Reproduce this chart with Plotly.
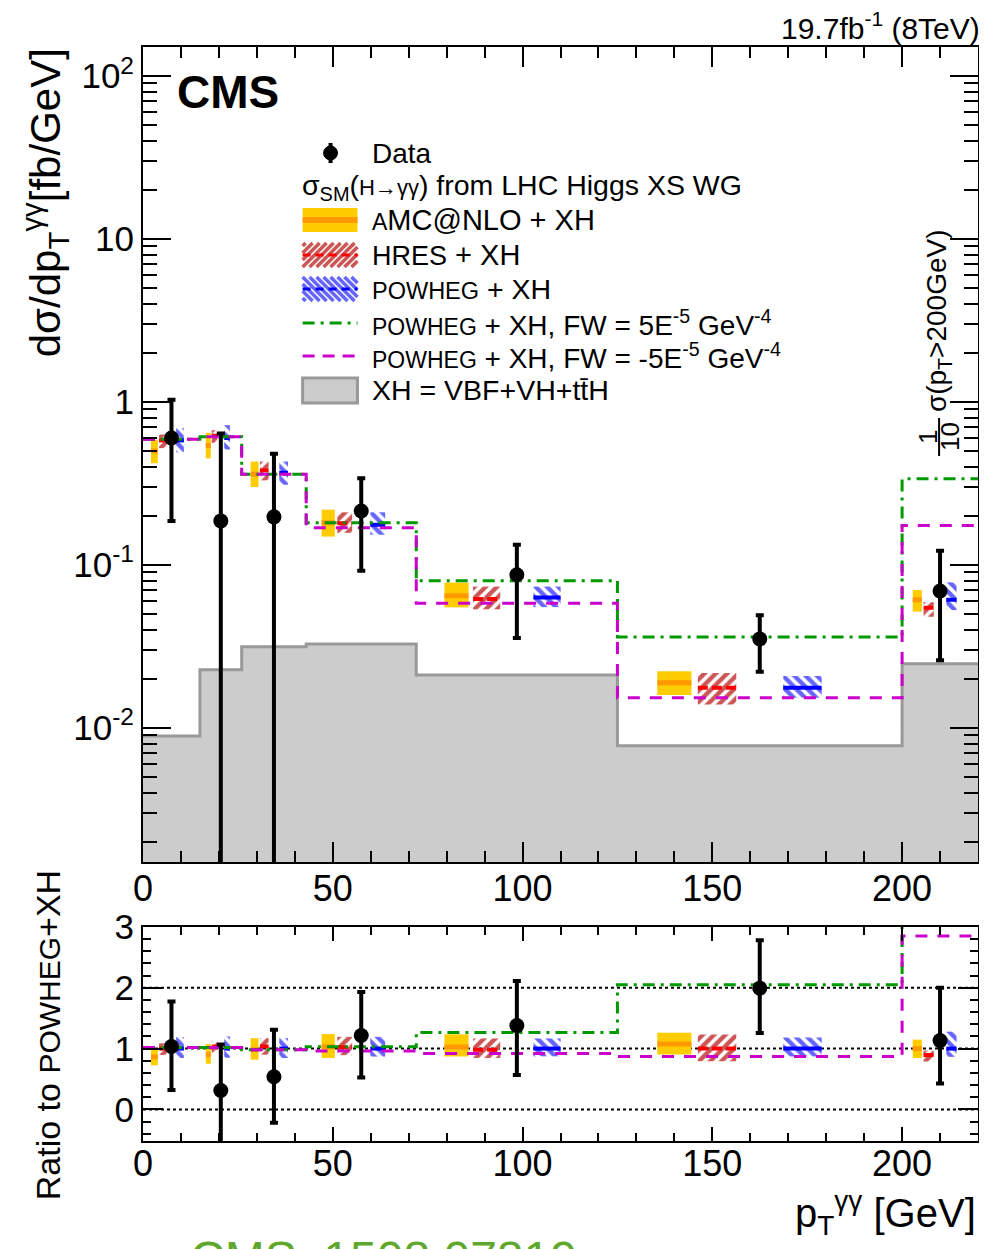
import plotly.graph_objects as go

# ---------------- data ----------------
edges = [0, 15, 26, 43, 72, 125, 200, 220]

data_val = [0.60, 0.186, 0.197, 0.214, 0.0868, 0.0351, 0.069]
data_hi = [1.03, 0.64, 0.48, 0.34, 0.133, 0.049, 0.122]
data_lo = [0.186, -0.35, -0.08, 0.092, 0.0356, 0.0221, 0.026]

amc_val = [0.50, 0.54, 0.36, 0.181, 0.0646, 0.0189, 0.061]
amc_hi = [0.585, 0.645, 0.43, 0.218, 0.0778, 0.0222, 0.070]
amc_lo = [0.42, 0.45, 0.30, 0.149, 0.0548, 0.0159, 0.0516]

hres_val = [0.58, 0.62, 0.38, 0.18, 0.0617, 0.0176, 0.0545]
hres_hi = [0.63, 0.67, 0.43, 0.21, 0.0735, 0.0217, 0.059]
hres_lo = [0.52, 0.56, 0.33, 0.157, 0.0533, 0.0139, 0.048]

pow_val = [0.58, 0.60, 0.367, 0.176, 0.063, 0.0176, 0.061]
pow_hi = [0.69, 0.72, 0.43, 0.21, 0.0735, 0.0208, 0.078]
pow_lo = [0.49, 0.51, 0.31, 0.153, 0.055, 0.0153, 0.0527]

fw_pos = [0.59, 0.61, 0.36, 0.181, 0.0798, 0.0361, 0.337]
fw_neg = [0.59, 0.61, 0.36, 0.169, 0.058, 0.0153, 0.174]
xh_val = [0.0089, 0.0227, 0.0314, 0.0327, 0.0211, 0.00776, 0.0247]

x_ticks = [0, 50, 100, 150, 200]
y_ticks = [0.01, 0.1, 1, 10, 100]
y_ticktext = ["10<sup>-2</sup>", "10<sup>-1</sup>", "1", "10", "10<sup>2</sup>"]
ratio_ticks = [0, 1, 2, 3]
ratio_ref = [0, 1, 2]

# ---------------- helpers ----------------
FONT = "Liberation Sans, Arial, Helvetica, sans-serif"
nb = len(edges) - 1
centers = [(edges[i] + edges[i + 1]) / 2 for i in range(nb)]
bwidth = [edges[i + 1] - edges[i] for i in range(nb)]

def ratio(arr):
    return [a / p for a, p in zip(arr, pow_val)]

def seg_xy(vals, frac, wfrac):
    xs, ys = [], []
    for i in range(nb):
        c = edges[i] + frac * bwidth[i]
        w = wfrac * bwidth[i]
        xs += [c - w / 2, c + w / 2, None]
        ys += [vals[i], vals[i], None]
    return xs, ys

fig = go.Figure()

def add_band(vals, lo, hi, frac, wfrac, fill, pattern, linecolor, linew, dash, xa, ya):
    xpos = [edges[i] + frac * bwidth[i] for i in range(nb)]
    widths = [wfrac * b for b in bwidth]
    marker = dict(color=fill, line=dict(width=0))
    if pattern:
        marker = dict(color="rgba(0,0,0,0)", line=dict(width=0),
                      pattern=dict(shape=pattern, fgcolor=linecolor[0], bgcolor="rgba(0,0,0,0)",
                                   size=8, solidity=0.55, fillmode="overlay", fgopacity=1))
    fig.add_trace(go.Bar(x=xpos, y=[h - l for h, l in zip(hi, lo)], base=lo, width=widths,
                         marker=marker, xaxis=xa, yaxis=ya, showlegend=False, hoverinfo="skip"))
    sx, sy = seg_xy(vals, frac, wfrac)
    fig.add_trace(go.Scatter(x=sx, y=sy, mode="lines", line=dict(color=linecolor[1], width=linew, dash=dash),
                             xaxis=xa, yaxis=ya, showlegend=False, hoverinfo="skip"))

def add_panel(xa, ya, is_ratio):
    f = ratio if is_ratio else (lambda a: a)
    if not is_ratio:
        fig.add_trace(go.Scatter(x=edges, y=xh_val + [xh_val[-1]], mode="lines", line_shape="hv",
                                 fill="tozeroy", fillcolor="#cccccc",
                                 line=dict(color="#999999", width=3),
                                 xaxis=xa, yaxis=ya, showlegend=False, hoverinfo="skip"))
    add_band(f(amc_val), f(amc_lo), f(amc_hi), 0.2, 0.12, "#ffcc00", None, ("#ffcc00", "#ff9900"), 5, "solid", xa, ya)
    add_band(f(hres_val), f(hres_lo), f(hres_hi), 0.35, 0.135, None, "/", ("#cc5555", "#ff0000"), 4, "10px,4px", xa, ya)
    add_band(f(pow_val), f(pow_lo), f(pow_hi), 0.65, 0.135, None, "\\", ("#6666ff", "#0000ff"), 4, "solid", xa, ya)
    fp = f(fw_pos)
    fn = f(fw_neg)
    fig.add_trace(go.Scatter(x=edges, y=fp + [fp[-1]], mode="lines", line_shape="hv",
                             line=dict(color="#009900", width=3, dash="12px,6px,3px,6px"),
                             xaxis=xa, yaxis=ya, showlegend=False, hoverinfo="skip"))
    fig.add_trace(go.Scatter(x=edges, y=fn + [fn[-1]], mode="lines", line_shape="hv",
                             line=dict(color="#cc00cc", width=3, dash="12px,10px"),
                             xaxis=xa, yaxis=ya, showlegend=False, hoverinfo="skip"))
    dv = f(data_val)
    dh = f(data_hi)
    dl = f(data_lo)
    fig.add_trace(go.Scatter(x=centers, y=dv, mode="markers",
                             marker=dict(color="black", size=15),
                             error_y=dict(type="data", symmetric=False,
                                          array=[h - v for h, v in zip(dh, dv)],
                                          arrayminus=[v - l for v, l in zip(dv, dl)],
                                          color="black", thickness=4, width=4),
                             xaxis=xa, yaxis=ya, showlegend=False, hoverinfo="skip"))

add_panel("x", "y", False)
add_panel("x2", "y2", True)

# ---------------- layout ----------------
# absolute page pixel positions of the plot area; the page body adds an 8px offset
OFF = 8
L, R, T, B, W, H = 143, 980, 47, 1141, 987, 1249
def PX(px):
    return (px - L) / (R - L)
def PY(py):
    return (B - py) / (B - T)

main_bottom = PY(862)
ratio_top = PY(927)

axis_common = dict(showline=True, linecolor="black", linewidth=2, mirror="allticks",
                   ticks="inside", tickcolor="black", tickwidth=2, showgrid=False, zeroline=False)

xfont = dict(family=FONT, size=36, color="black")
yfont = dict(family=FONT, size=35, color="black")

minor_log = [m * 10 ** e for e in range(-3, 3) for m in range(2, 10)]

fig.update_layout(
    width=W - OFF, height=H - OFF, autosize=False,
    margin=dict(l=L - OFF, r=W - R, t=T - OFF, b=H - B, pad=0),
    paper_bgcolor="white", plot_bgcolor="white",
    barmode="overlay", showlegend=False,
    font=dict(family=FONT, color="black"),
    xaxis=dict(axis_common, domain=[0, 1], anchor="y", range=[0, 220], tickfont=xfont,
               tickmode="array", tickvals=x_ticks, ticklen=20, ticklabelstandoff=-6,
               minor=dict(dtick=10, tick0=0, ticks="inside", ticklen=11, tickwidth=2, tickcolor="black")),
    yaxis=dict(axis_common, domain=[main_bottom, 1], anchor="x", type="log", tickfont=yfont,
               range=[-2.824, 2.178], tickmode="array", tickvals=y_ticks, ticktext=y_ticktext,
               ticklen=28,
               minor=dict(tickmode="array", tickvals=minor_log, ticks="inside", ticklen=14,
                          tickwidth=2, tickcolor="black")),
    xaxis2=dict(axis_common, domain=[0, 1], anchor="y2", range=[0, 220], tickfont=xfont,
                tickmode="array", tickvals=x_ticks, ticklen=14, ticklabelstandoff=-10,
                minor=dict(dtick=10, tick0=0, ticks="inside", ticklen=8, tickwidth=2, tickcolor="black")),
    yaxis2=dict(axis_common, domain=[0, ratio_top], anchor="x2", range=[-0.52, 3.0], tickfont=yfont,
                tickmode="array", tickvals=ratio_ticks, ticklen=20,
                minor=dict(dtick=0.2, tick0=0, ticks="inside", ticklen=8, tickwidth=2, tickcolor="black")),
)

shapes = []
for r in ratio_ref:
    shapes.append(dict(type="line", xref="x2", yref="y2", x0=0, x1=220, y0=r, y1=r,
                       line=dict(color="black", width=2, dash="dot"), layer="below"))

ann = []
def text(x, y, s, size, xanchor="left", yanchor="middle", angle=0, color="black"):
    ann.append(dict(x=PX(x), y=PY(y), xref="paper", yref="paper", text=s, showarrow=False,
                    xanchor=xanchor, yanchor=yanchor, textangle=angle,
                    font=dict(family=FONT, size=size, color=color)))

def pline(x0, y0, x1, y1, color, width, dash="solid"):
    shapes.append(dict(type="line", xref="paper", yref="paper", x0=PX(x0), y0=PY(y0),
                       x1=PX(x1), y1=PY(y1), line=dict(color=color, width=width, dash=dash)))

def prect(x0, y0, x1, y1, fill, lcolor=None, lw=0):
    shapes.append(dict(type="rect", xref="paper", yref="paper", x0=PX(x0), y0=PY(y0),
                       x1=PX(x1), y1=PY(y1), fillcolor=fill,
                       line=dict(color=lcolor or fill, width=lw)))

# legend
lx0, lx1, tx = 303, 358, 371
pline(331, 143, 331, 163, "black", 4)
shapes.append(dict(type="circle", xref="paper", yref="paper", x0=PX(324), x1=PX(338),
                   y0=PY(146), y1=PY(160), fillcolor="black", line=dict(color="black", width=1)))
text(tx, 153, "Data", 28)
text(300, 187, "σ<sub>SM</sub>(<span style='font-size:22px'>H→γγ</span>) from LHC Higgs XS WG", 28.5)
prect(lx0, 208, lx1, 232, "#ffcc00")
pline(lx0, 220, lx1, 220, "#ff9900", 6)
text(tx, 220, "<span style='font-size:23px'>A</span>MC@NLO + XH", 29)
for k in range(-3, 8):
    xa = lx0 + 7 * k
    pline(max(xa, lx0), 267 - (max(xa, lx0) - xa), min(xa + 24, lx1), 267 - (min(xa + 24, lx1) - xa), "#cc5555", 3.5)
pline(lx0, 255, lx1, 255, "#ff0000", 3, "8px,5px")
text(tx, 255, "<span style='font-size:27px'>HRES</span> + XH", 29)
for k in range(-3, 8):
    xa = lx0 + 7 * k
    pline(max(xa, lx0), 277 + (max(xa, lx0) - xa), min(xa + 24, lx1), 277 + (min(xa + 24, lx1) - xa), "#6666ff", 3.5)
pline(lx0, 289, lx1, 289, "#0000ff", 3, "8px,5px")
text(tx, 289, "<span style='font-size:23.5px'>POWHEG</span> + XH", 28.5)
pline(lx0, 323, lx1, 323, "#009900", 3, "12px,6px,3px,6px")
text(tx, 323, "<span style='font-size:23px'>POWHEG</span> + XH, FW = 5E<sup>-5</sup> GeV<sup>-4</sup>", 28)
pline(lx0, 356, lx1, 356, "#cc00cc", 3, "12px,8px")
text(tx, 356, "<span style='font-size:23px'>POWHEG</span> + XH, FW = -5E<sup>-5</sup> GeV<sup>-4</sup>", 28)
prect(lx0, 378, lx1, 403, "#cccccc", "#999999", 3)
text(tx, 390, "XH = VBF+VH+tt\u0304H", 28.5)

# other labels
text(175, 92, "<b>CMS</b>", 46)
text(984, 26, "19.7fb<sup>-1</sup> (8TeV)", 30, xanchor="right")
text(45, 203, "dσ/dp<sub>T</sub><sup>γγ</sup>[fb/GeV]", 42, xanchor="center", angle=-90)
text(48, 1035, "Ratio to <span style='font-size:30px'>POWHEG</span>+XH", 34, xanchor="center", angle=-90)
text(980, 1213, "p<sub>T</sub><sup>γγ</sup> [GeV]", 40, xanchor="right")
text(940, 321, "σ(p<sub>T</sub>>200GeV)", 28, xanchor="center", angle=-90)
text(930, 437, "1", 26, xanchor="center", angle=-90)
text(952, 437, "10", 26, xanchor="center", angle=-90)
pline(941, 418, 941, 456, "black", 2)
text(188, 1230, "CMS, 1508.07819", 48, yanchor="top", color="#5fa82e")

fig.update_layout(shapes=shapes, annotations=ann)
fig.write_html("out.html")
